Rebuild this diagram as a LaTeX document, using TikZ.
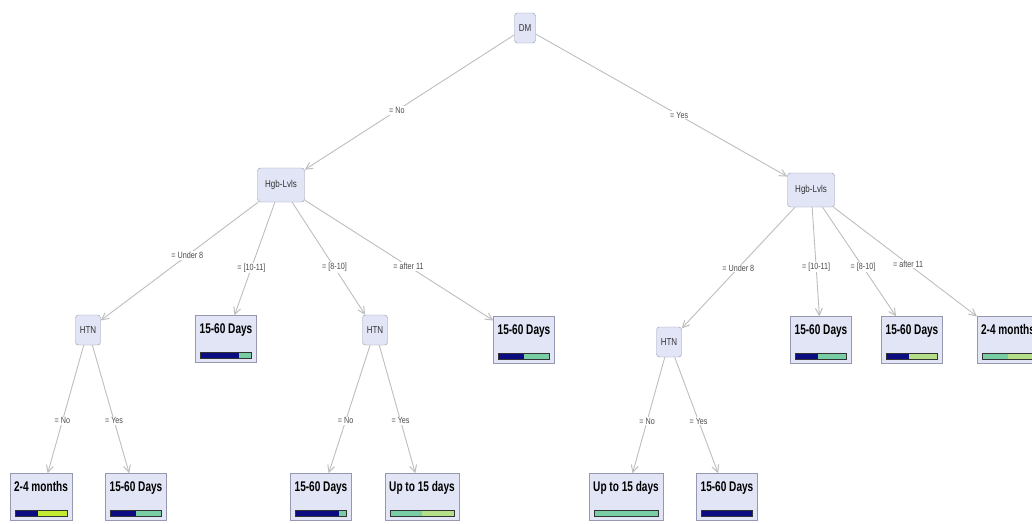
\documentclass[tikz,border=0pt]{standalone}
\usepackage{fontspec}
\setmainfont{Liberation Sans}[FakeStretch=0.8]
\newfontfamily\leaffont{Liberation Sans}[FakeStretch=0.72]
\usetikzlibrary{arrows.meta,calc}

\definecolor{boxfill}{RGB}{226,229,246}
\definecolor{boxline}{RGB}{150,152,175}
\definecolor{edgegray}{RGB}{190,190,190}
\definecolor{barnavy}{RGB}{12,12,130}
\definecolor{barmint}{RGB}{120,205,165}
\definecolor{barlime}{RGB}{195,235,50}
\definecolor{barsage}{RGB}{180,222,135}

\tikzset{
  split/.style={draw=boxline, fill=boxfill, rounded corners=3pt, minimum width=21pt, minimum height=30pt,
    inner sep=3pt, text=black!80, font=\fontsize{10}{11}\selectfont},
  leaf/.style={draw=boxline, fill=boxfill, minimum width=58pt, inner xsep=4pt, inner ysep=6pt,
    text height=12pt, text depth=23pt, font=\leaffont\bfseries\fontsize{14}{15}\selectfont},
  edge/.style={edgegray, line width=0.9pt, -{Straight Barb[length=7pt,width=7pt,line width=1pt]}},
  cond/.style={fill=white, inner sep=1pt, text=black!70, font=\fontsize{9}{10}\selectfont},
}

% class bar at the foot of a leaf: node, split point, left colour, right colour
\newcommand{\leafbar}[4]{%
  \path (#1.south west) ++(5pt,4pt) coordinate (bl) (#1.south east) ++(-5pt,10pt) coordinate (tr);
  \fill[#3] (bl) rectangle ($(bl|-tr)!#2!(tr)$);
  \fill[#4] ($(bl)!#2!(bl-|tr)$) rectangle (tr);
  \draw[black!80, line width=0.8pt] (bl) rectangle (tr);
}

\begin{document}
\begin{tikzpicture}[x=1pt, y=-1pt]
    \useasboundingbox[fill=white] (0,0) rectangle (1032,523);

    \node[split] (dm) at (525,28) {DM};
    \node[split, minimum width=47pt, minimum height=34pt] (hgbL) at (281,185) {Hgb-Lvls};
    \node[split, minimum width=47pt, minimum height=34pt] (hgbR) at (811,190) {Hgb-Lvls};
    \node[split, minimum width=25pt] (htnL) at (88,330) {HTN};
    \node[split, minimum width=25pt] (htnM) at (375,330) {HTN};
    \node[split, minimum width=25pt] (htnR) at (669,342) {HTN};

    \node[leaf] (leafA) at (226,339) {15-60 Days};
    \node[leaf] (leafB) at (524,340) {15-60 Days};
    \node[leaf] (leafC) at (821,340) {15-60 Days};
    \node[leaf] (leafD) at (912,340) {15-60 Days};
    \node[leaf] (leafE) at (1008,340) {2-4 months};
    \node[leaf] (leaf1) at (41,497) {2-4 months};
    \node[leaf] (leaf2) at (136,497) {15-60 Days};
    \node[leaf] (leaf3) at (321,497) {15-60 Days};
    \node[leaf] (leaf4) at (422,497) {Up to 15 days};
    \node[leaf] (leaf5) at (626,497) {Up to 15 days};
    \node[leaf] (leaf6) at (727,497) {15-60 Days};

    \draw[edge] (dm) -- node[cond, pos=0.56] {= No} (hgbL);
    \draw[edge] (dm) -- node[cond, pos=0.57] {= Yes} (hgbR);

    \draw[edge] (hgbL) -- node[cond, pos=0.45] {= Under 8} (htnL);
    \draw[edge] (hgbL) -- node[cond, pos=0.58] {= [10-11]} (leafA);
    \draw[edge] (hgbL) -- node[cond, pos=0.58] {= [8-10]} (htnM);
    \draw[edge] (hgbL) -- node[cond, pos=0.55] {= after 11} (leafB);

    \draw[edge] (hgbR) -- node[cond, pos=0.5] {= Under 8} (htnR);
    \draw[edge] (hgbR) -- node[cond, pos=0.55] {= [10-11]} (leafC);
    \draw[edge] (hgbR) -- node[cond, pos=0.55] {= [8-10]} (leafD);
    \draw[edge] (hgbR) -- node[cond, pos=0.52] {= after 11} (leafE);

    \draw[edge] (htnL) -- node[cond, pos=0.59] {= No} (leaf1);
    \draw[edge] (htnL) -- node[cond, pos=0.59] {= Yes} (leaf2);
    \draw[edge] (htnM) -- node[cond, pos=0.59] {= No} (leaf3);
    \draw[edge] (htnM) -- node[cond, pos=0.59] {= Yes} (leaf4);
    \draw[edge] (htnR) -- node[cond, pos=0.55] {= No} (leaf5);
    \draw[edge] (htnR) -- node[cond, pos=0.55] {= Yes} (leaf6);

    \leafbar{leafA}{0.75}{barnavy}{barmint}
    \leafbar{leafB}{0.5}{barnavy}{barmint}
    \leafbar{leafC}{0.45}{barnavy}{barmint}
    \leafbar{leafD}{0.45}{barnavy}{barsage}
    \leafbar{leafE}{0.5}{barmint}{barsage}
    \leafbar{leaf1}{0.45}{barnavy}{barlime}
    \leafbar{leaf2}{0.5}{barnavy}{barmint}
    \leafbar{leaf3}{0.85}{barnavy}{barmint}
    \leafbar{leaf4}{0.5}{barmint}{barsage}
    \leafbar{leaf5}{1}{barmint}{barmint}
    \leafbar{leaf6}{1}{barnavy}{barnavy}
\end{tikzpicture}
\end{document}
